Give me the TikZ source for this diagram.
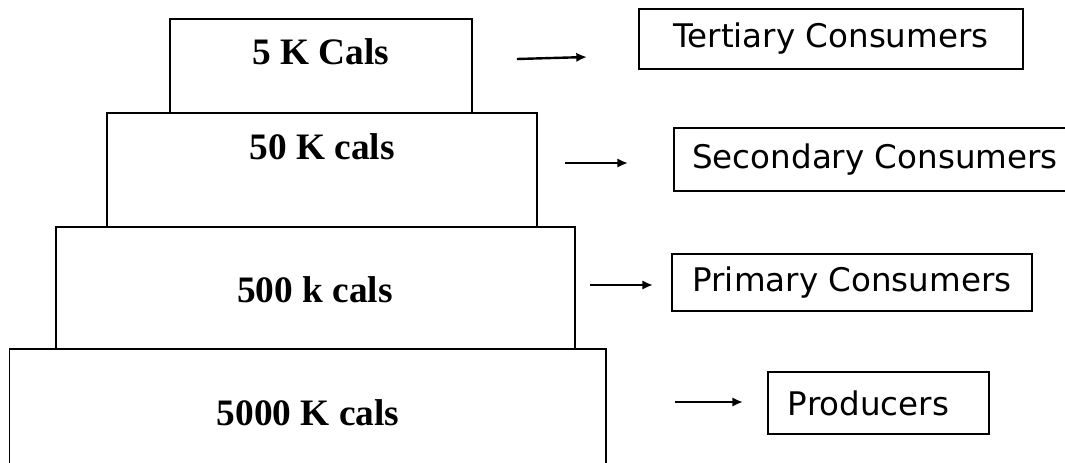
\documentclass[tikz,border=0pt]{standalone}
\usepackage{fontspec}
\setmainfont{Liberation Serif}
\newfontfamily\labelfont{DejaVu Sans}
\usetikzlibrary{arrows.meta}

\tikzset{
  level/.style={shape=rectangle,draw=black,line width=1pt,inner sep=0pt,outer sep=0pt},
  kcal/.style={font=\fontsize{28}{33}\selectfont\bfseries},
  trophic/.style={shape=rectangle,draw=black,line width=1pt,inner sep=0pt,outer sep=0pt,
    font=\labelfont\fontsize{24.4}{29}\selectfont},
  arr/.style={-{Latex[length=8pt,width=7pt]},line width=1.8pt}
}

\begin{document}
\begin{tikzpicture}[x=0.75pt,y=-0.75pt]

        	\useasboundingbox (0,0) rectangle (1065,462);

        	% pyramid
        	\node[level,minimum width=226.5pt,minimum height=70.5pt] (l5) at (321,66) {};
        	\node[level,minimum width=322.5pt,minimum height=85.5pt] (l4) at (322,170) {};
        	\node[level,minimum width=389.25pt,minimum height=91.5pt] (l3) at (315.5,288) {};
        	\node[level,minimum width=447.4pt,minimum height=99.75pt] (l2) at (307.75,415.5) {};

        	\node[kcal] (k5) at (321,52) {5 K Cals};
        	\node[kcal] (k4) at (322,147) {50 K cals};
        	\node[kcal] (k3) at (315,290) {500 k cals};
        	\node[kcal] (k2) at (308,413) {5000 K cals};

        	% trophic levels
        	\node[trophic,minimum width=288pt,minimum height=45pt] (tert) at (831,39) {Tertiary Consumers};
        	\node[trophic,minimum width=301.5pt,minimum height=47.25pt] (sec) at (875,159.5) {Secondary Consumers};
        	\node[trophic,minimum width=270pt,minimum height=42.75pt] (prim) at (852,282.5) {Primary Consumers};
        	\node[trophic,minimum width=165.75pt,minimum height=46.5pt] (prod) at (878.5,403) {Producers\hspace*{15pt}};

        	\coordinate (a5) at (517,59);
        	\coordinate (b5) at (587,57);
        	\coordinate (a4) at (565,163);
        	\coordinate (b4) at (628,163);
        	\coordinate (a3) at (590,285);
        	\coordinate (b3) at (653,285);
        	\coordinate (a2) at (675,402);
        	\coordinate (b2) at (743,402);

        	\path[arr] (a5) edge (b5);
        	\path[arr] (a4) edge (b4);
            \path[arr] (a3) edge (b3);
            \path[arr] (a2) edge (b2);

\end{tikzpicture}
\end{document}
